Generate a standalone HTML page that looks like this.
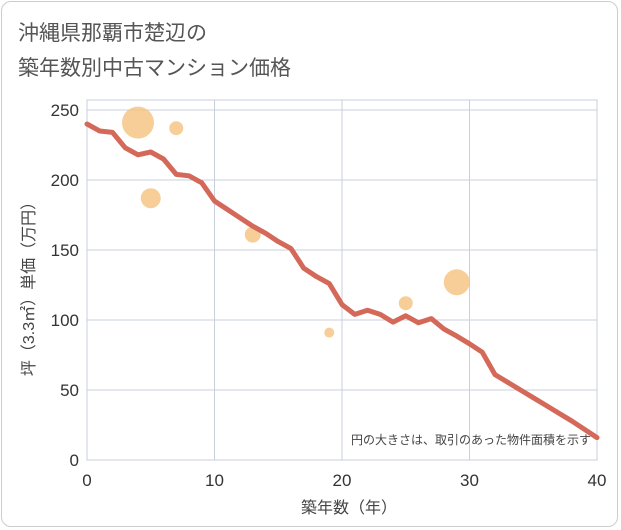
<!DOCTYPE html>
<html><head><meta charset="utf-8">
<style>
body{margin:0;background:#fff;}
#wrap{position:relative;width:621px;height:530px;overflow:hidden;font-family:"Liberation Sans","Noto Sans CJK JP",sans-serif;}
#frame{position:absolute;left:1px;top:1px;width:617px;height:526px;border:1px solid #ccc;border-radius:10px;box-sizing:border-box;}
</style></head>
<body>
<div id="wrap">
<div id="frame"></div>
<svg id="chart" width="621" height="530" style="position:absolute;left:0;top:0">
<text x="18" y="40" font-size="21" fill="#555">沖縄県那覇市楚辺の</text>
<text x="18" y="75" font-size="21" fill="#555">築年数別中古マンション価格</text>
<g id="grid"></g>
<g id="axes"></g>
<g id="marks"></g>
<text x="591" y="444" font-size="12" fill="#444" text-anchor="end">円の大きさは、取引のあった物件面積を示す</text>
<text x="349" y="513" font-size="16" fill="#444" text-anchor="middle">築年数（年）</text>
<text transform="translate(34,285) rotate(-90)" font-size="16" fill="#444" text-anchor="middle">坪（3.3㎡）単価（万円）</text>
</svg>
</div>
<script>
const xTicks=[0,10,20,30,40];
const yTicks=[0,50,100,150,200,250];
const lineYears=[0,1,2,3,4,5,6,7,8,9,10,11,12,13,14,15,16,17,18,19,20,21,22,23,24,25,26,27,28,29,30,31,32,33,34,35,36,37,38,39,40];
const linePrices=[240,235,234,223,218,220,215,204,203,198,185,179,173,167,162,156,151,137,131,126,111,104,107,104,98.5,103,98,101,93.5,88.5,83,77,61,55.5,50,44.5,39,33.5,28,22,16];
const bubbleYears=[4,5,7,13,19,25,29];
const bubblePrices=[241,187,237,161,91,112,127];
const bubbleSizes=[16,10,7,8,5,7,13];
const X0=87,X1=597,Y0=460,Y1=110;
const xs=v=>X0+(v-0)/(40-0)*(X1-X0);
const ys=v=>Y0-(v-0)/(250-0)*(Y0-Y1);
const NS="http://www.w3.org/2000/svg";
function mk(tag,attrs,parent){const e=document.createElementNS(NS,tag);for(const k in attrs)e.setAttribute(k,attrs[k]);parent.appendChild(e);return e;}
const grid=document.getElementById('grid'),axes=document.getElementById('axes'),marks=document.getElementById('marks');
const bg=mk('rect',{x:X0,y:100,width:X1-X0,height:Y0-100,fill:'#fff',stroke:'#c8d0dc'},grid);


xTicks.forEach(t=>{
 const l=mk('line',{x1:xs(t),x2:xs(t),y1:100,y2:Y0,stroke:'#c8d0dc'},grid);
 
 
 const tx=mk('text',{x:xs(t),y:Y0+26,'font-size':17,fill:'#333','text-anchor':'middle'},axes);
 tx.textContent=t;
 
 
});
yTicks.forEach(t=>{
 const l=mk('line',{x1:X0,x2:X1,y1:ys(t),y2:ys(t),stroke:'#c8d0dc'},grid);
 
 
 const tx=mk('text',{x:X0-8,y:ys(t)+6,'font-size':17,fill:'#333','text-anchor':'end'},axes);
 tx.textContent=t;
 
 
});
bubbleYears.forEach((yr,i)=>{
 const c=mk('circle',{cx:xs(yr),cy:ys(bubblePrices[i]),r:bubbleSizes[i],fill:'#f5c27e','fill-opacity':0.8},marks);
 
 
});
const pts=lineYears.map((yr,i)=>xs(yr)+','+ys(linePrices[i])).join(' ');
const pl=mk('polyline',{points:pts,fill:'none',stroke:'#d4695a','stroke-width':5,'stroke-linejoin':'round','stroke-linecap':'round'},marks);


</script>
</body></html>
